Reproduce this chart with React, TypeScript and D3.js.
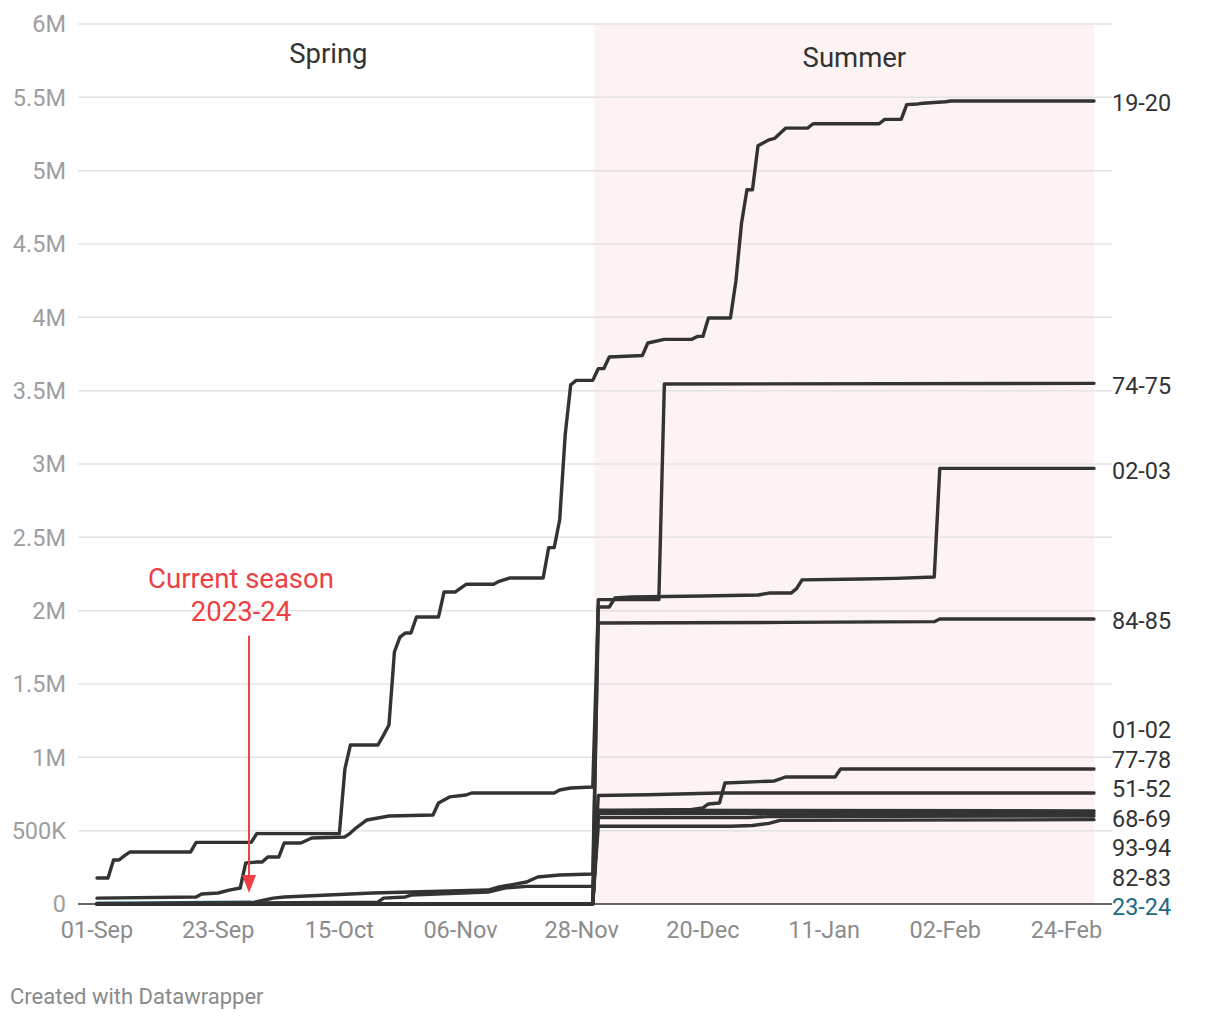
import React from "react";
import * as d3 from "d3";

type Pt = [number, number]; // [days since 1 Sep, burnt area in millions]

const seasons = ["19-20", "74-75", "02-03", "84-85", "01-02", "77-78", "51-52", "68-69", "93-94", "82-83", "23-24"];

const s1920: Pt[] = [[0, 0.177], [2, 0.177], [3, 0.3], [4, 0.3], [5, 0.33], [6, 0.355], [17, 0.355], [18, 0.42], [28, 0.42], [29, 0.48], [44, 0.48], [45, 0.92], [46, 1.084], [51, 1.084], [52, 1.15], [53, 1.22], [54, 1.72], [55, 1.82], [56, 1.848], [57, 1.848], [58, 1.957], [62, 1.957], [63, 2.127], [65, 2.127], [67, 2.18], [72, 2.18], [73, 2.2], [75, 2.223], [81, 2.223], [82, 2.43], [83, 2.43], [84, 2.62], [85, 3.2], [86, 3.54], [87, 3.57], [90, 3.57], [91, 3.65], [92, 3.65], [93, 3.73], [99, 3.74], [100, 3.825], [103, 3.85], [108, 3.85], [109, 3.87], [110, 3.87], [111, 3.995], [115, 3.995], [116, 4.25], [117, 4.64], [118, 4.87], [119, 4.87], [120, 5.17], [122, 5.21], [123, 5.22], [125, 5.29], [129, 5.29], [130, 5.32], [142, 5.32], [143, 5.35], [146, 5.35], [147, 5.45], [149, 5.455], [150, 5.46], [154, 5.47], [155, 5.475], [181, 5.475]];
const s7475: Pt[] = [[0, 0], [90, 0], [91, 2.075], [102, 2.075], [103, 3.545], [181, 3.55]];
const s0203: Pt[] = [[0, 0.04], [18, 0.048], [19, 0.068], [22, 0.075], [24, 0.095], [26, 0.109], [27, 0.28], [29, 0.286], [30, 0.286], [31, 0.32], [33, 0.32], [34, 0.416], [37, 0.416], [39, 0.45], [45, 0.457], [46, 0.484], [47, 0.518], [49, 0.573], [53, 0.6], [61, 0.607], [62, 0.689], [64, 0.73], [67, 0.743], [68, 0.757], [83, 0.757], [84, 0.777], [86, 0.791], [90, 0.798], [91, 2.025], [93, 2.025], [94, 2.086], [97, 2.093], [110, 2.1], [120, 2.107], [122, 2.12], [126, 2.12], [127, 2.15], [128, 2.21], [139, 2.216], [145, 2.22], [152, 2.23], [153, 2.97], [181, 2.97]];
const s8485: Pt[] = [[0, 0], [28, 0.007], [32, 0.04], [34, 0.048], [50, 0.075], [71, 0.095], [73, 0.116], [78, 0.15], [80, 0.184], [84, 0.198], [90, 0.205], [91, 1.916], [125, 1.92], [152, 1.925], [153, 1.943], [181, 1.943]];
const s0102: Pt[] = [[0, 0], [90, 0], [91, 0.64], [181, 0.635]];
const s7778: Pt[] = [[0, 0], [90, 0], [91, 0.635], [108, 0.645], [110, 0.655], [111, 0.682], [113, 0.689], [114, 0.825], [123, 0.839], [125, 0.866], [134, 0.866], [135, 0.92], [181, 0.92]];
const s5152: Pt[] = [[0, 0], [90, 0], [91, 0.74], [100, 0.745], [113, 0.757], [181, 0.757]];
const s6869: Pt[] = [[0, 0], [90, 0], [91, 0.618], [181, 0.618]];
const s9394: Pt[] = [[0, 0], [51, 0.013], [52, 0.04], [56, 0.048], [57, 0.061], [71, 0.082], [74, 0.109], [78, 0.12], [90, 0.12], [91, 0.59], [118, 0.59], [122, 0.596], [181, 0.6]];
const s8283: Pt[] = [[0, 0], [90, 0], [91, 0.53], [115, 0.53], [119, 0.535], [122, 0.55], [124, 0.57], [181, 0.575]];
const s2324: Pt[] = [[0, 0.005], [10, 0.007], [20, 0.01], [28, 0.012]];

const seriesValues: Pt[][] = [s1920, s7475, s0203, s8485, s0102, s7778, s5152, s6869, s9394, s8283, s2324];
const highlighted = "23-24";

const xTickDays = [0, 22, 44, 66, 88, 110, 132, 154, 176];
const xTickLabels = ["01-Sep", "23-Sep", "15-Oct", "06-Nov", "28-Nov", "20-Dec", "11-Jan", "02-Feb", "24-Feb"];
const yTicks = [0, 0.5, 1, 1.5, 2, 2.5, 3, 3.5, 4, 4.5, 5, 5.5, 6];
const yTickLabels = ["0", "500K", "1M", "1.5M", "2M", "2.5M", "3M", "3.5M", "4M", "4.5M", "5M", "5.5M", "6M"];

const periodNames = ["Spring", "Summer"];
const periodStart = [0, 90.3];
const periodEnd = [90.3, 181];
const periodLabelDay = [42, 137.5];
const periodLabelValue = [5.8, 5.77];

const annotationLines = ["Current season", "2023-24"];
const annotationDay = 27.6;
const annotationTextValue = 2.22;
const annotationArrowFrom = 1.83;
const annotationArrowTo = 0.075;

const W = 1220, H = 1020;
const LINE = "#333333";
const RED = "#ee3f43";
const TEAL = "#1d6a84";
const FONT = "Roboto, 'Noto Sans', sans-serif";

function placeLabels(desired: number[], gap: number, maxY: number): number[] {
  type C = { start: number; n: number; sum: number };
  let clusters: C[] = desired.map((d, i) => ({ start: i, n: 1, sum: d }));
  const pos = (c: C, k: number) => c.sum / c.n - ((c.n - 1) / 2) * gap + k * gap;
  let changed = true;
  while (changed) {
    changed = false;
    for (let i = 0; i < clusters.length - 1; i++) {
      const a = clusters[i], b = clusters[i + 1];
      if (pos(b, 0) - pos(a, a.n - 1) < gap) {
        clusters.splice(i, 2, { start: a.start, n: a.n + b.n, sum: a.sum + b.sum });
        changed = true;
        break;
      }
    }
  }
  const out: number[] = [];
  clusters.forEach((c) => {
    let shift = 0;
    const bottom = pos(c, c.n - 1);
    if (bottom > maxY) shift = maxY - bottom;
    for (let k = 0; k < c.n; k++) out.push(pos(c, k) + shift);
  });
  return out;
}

export default function App() {
  const x = d3.scaleLinear().domain([0, 181]).range([97, 1094]);
  const y = d3.scaleLinear().domain([0, 6]).range([904, 24]);
  const gridX0 = 78, gridX1 = 1112;
  const line = d3.line<Pt>().x((d) => x(d[0])).y((d) => y(d[1]));

  const desired = seriesValues.map((s) => y(s[s.length - 1][1]) + 2);
  const labelY = placeLabels(desired, 29.5, y(0) + 3);

  const order = seasons.map((_, i) => i).sort((a, b) => (seasons[a] === highlighted ? -1 : seasons[b] === highlighted ? 1 : 0));

  const ax = x(annotationDay);
  const tipY = y(annotationArrowTo);

  return (
    <svg width={W} height={H} style={{ position: "absolute", left: 0, top: 0, background: "#fff" }} fontFamily={FONT}>
      <rect x={x(periodStart[1])} y={y(6)} width={x(periodEnd[1]) - x(periodStart[1])} height={y(0) - y(6)} fill="#fdf3f2" />
      {yTicks.map((t, i) => (
        <g key={"yt" + i}>
          {t !== 0 && <line x1={gridX0} x2={gridX1} y1={y(t)} y2={y(t)} stroke="#e4e4e4" strokeWidth={1.5} />}
          <text x={66} y={y(t)} dy="0.35em" textAnchor="end" fontSize={23.5} fill="#9e9e9e">{yTickLabels[i]}</text>
        </g>
      ))}
      {periodNames.map((p, i) => (
        <text key={p} x={x(periodLabelDay[i])} y={y(periodLabelValue[i])} dy="0.35em" textAnchor="middle" fontSize={27.5} fill="#333">{p}</text>
      ))}
      {order.map((i) => (
        <path key={seasons[i]} d={line(seriesValues[i]) || ""} fill="none" stroke={seasons[i] === highlighted ? TEAL : LINE} strokeWidth={3.4} strokeLinejoin="round" strokeLinecap="round" />
      ))}
      <line x1={gridX0} x2={gridX1} y1={y(0)} y2={y(0)} stroke="#333" strokeWidth={1.5} />
      {xTickDays.map((d, i) => (
        <text key={"xt" + i} x={x(d)} y={y(0) + 34} textAnchor="middle" fontSize={23.5} fill="#8c8c8c">{xTickLabels[i]}</text>
      ))}
      {seasons.map((s, i) => (
        <text key={"lb" + s} x={1112} y={labelY[i]} dy="0.35em" fontSize={23.4} fill={s === highlighted ? TEAL : "#333"}>{s}</text>
      ))}
      {annotationLines.map((t, i) => (
        <text key={"an" + i} x={ax - 8} y={y(annotationTextValue) + i * 33} dy="0.35em" textAnchor="middle" fontSize={27.5} fill={RED}>{t}</text>
      ))}
      <line x1={ax} x2={ax} y1={y(annotationArrowFrom)} y2={tipY - 14} stroke={RED} strokeWidth={2} />
      <path d={`M${ax - 7},${tipY - 18}L${ax + 7},${tipY - 18}L${ax},${tipY}Z`} fill={RED} />
      <text x={10} y={1004} fontSize={22} fill="#8a8a8a">Created with Datawrapper</text>
    </svg>
  );
}
